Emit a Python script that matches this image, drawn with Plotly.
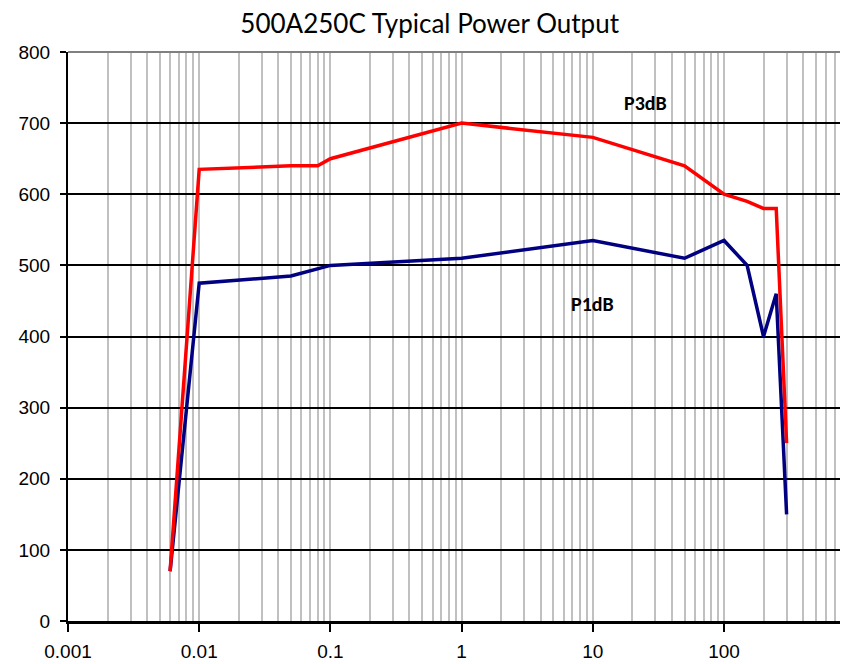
import plotly.graph_objects as go
import math

freq_p3 = [0.006, 0.01, 0.05, 0.08, 0.1, 1, 10, 50, 100, 150, 200, 250, 300]
p3db = [70, 635, 640, 640, 650, 700, 680, 640, 600, 590, 580, 580, 250]

freq_p1 = [0.006, 0.01, 0.05, 0.1, 1, 10, 50, 100, 150, 200, 250, 300]
p1db = [70, 475, 485, 500, 510, 535, 510, 535, 500, 400, 460, 150]

x_tickvals = [0.001, 0.01, 0.1, 1, 10, 100]
x_ticktext = ["0.001", "0.01", "0.1", "1", "10", "100"]
y_tickvals = [0, 100, 200, 300, 400, 500, 600, 700, 800]

fig = go.Figure()
fig.add_trace(go.Scatter(x=freq_p1, y=p1db, mode="lines", name="P1dB",
                         line=dict(color="#000080", width=3.5)))
fig.add_trace(go.Scatter(x=freq_p3, y=p3db, mode="lines", name="P3dB",
                         line=dict(color="#FF0000", width=3.5)))

fig.add_annotation(x=math.log10(25), y=728, text="<b>P3dB</b>", showarrow=False,
                   font=dict(family="Carlito, Lato, sans-serif", size=20, color="black"))
fig.add_annotation(x=math.log10(10), y=446, text="<b>P1dB</b>", showarrow=False,
                   font=dict(family="Carlito, Lato, sans-serif", size=20, color="black"))

fig.add_shape(type="line", xref="paper", yref="paper", x0=0, x1=1, y0=1, y1=1,
              line=dict(color="#808080", width=2))

fig.update_layout(
    width=840, height=656,
    margin=dict(l=60, r=0, t=44, b=43, autoexpand=False),
    paper_bgcolor="white", plot_bgcolor="white",
    showlegend=False,
    title=dict(text="500A250C Typical Power Output", x=0.502, xanchor="center",
               y=0.99, yanchor="top",
               font=dict(family="Lato, sans-serif", size=26, color="black")),
    xaxis=dict(type="log", range=[-3, 2.945], automargin=False,
               tickvals=x_tickvals, ticktext=x_ticktext,
               ticks="outside", ticklen=8, tickwidth=2, tickcolor="black",
               ticklabelstandoff=3,
               showgrid=True, gridcolor="#c0c0c0", gridwidth=2,
               minor=dict(dtick="D1", showgrid=True, gridcolor="#c0c0c0", gridwidth=2, ticks=""),
               showline=True, linecolor="black", linewidth=3,
               tickfont=dict(family="Liberation Sans, Arial, sans-serif", size=19, color="black"),
               zeroline=False, fixedrange=True),
    yaxis=dict(range=[0, 800], tickvals=y_tickvals, automargin=False,
               ticks="outside", ticklen=6, tickwidth=1.5, tickcolor="black",
               ticklabelstandoff=6,
               showgrid=True, gridcolor="black", gridwidth=2,
               showline=True, linecolor="black", linewidth=2,
               tickfont=dict(family="Liberation Sans, Arial, sans-serif", size=19, color="black"),
               zeroline=False),
)

fig.write_html("out.html")
